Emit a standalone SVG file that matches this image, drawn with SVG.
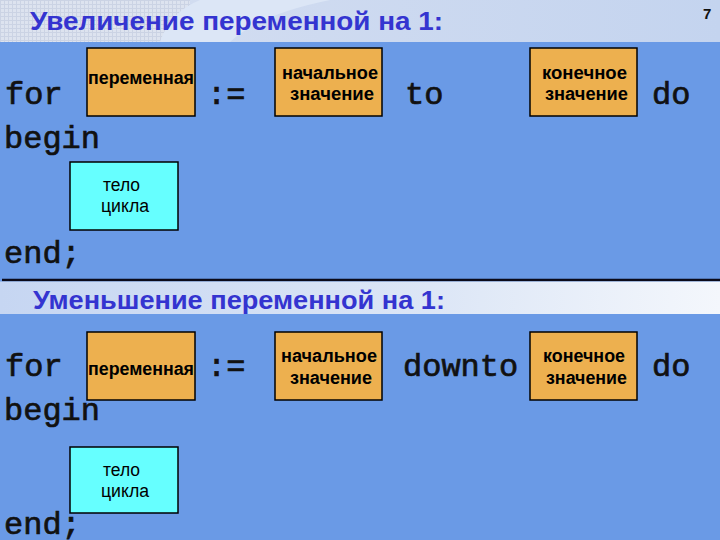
<svg xmlns="http://www.w3.org/2000/svg" width="720" height="540" viewBox="0 0 720 540">
<defs>
<pattern id="grid" width="4" height="4" patternUnits="userSpaceOnUse">
<rect width="4" height="4" fill="#DDE3EF"/>
<path d="M0 0.5H4M0.5 0V4" stroke="#CBD3E4" stroke-width="1"/>
</pattern>
<linearGradient id="hdr1" x1="0" y1="0" x2="1" y2="0">
<stop offset="0" stop-color="#D6DFF1"/>
<stop offset="1" stop-color="#C4D4EF"/>
</linearGradient>
<linearGradient id="hdr2" x1="0" y1="0" x2="1" y2="0">
<stop offset="0" stop-color="#C6D6F2"/>
<stop offset="0.6" stop-color="#DCE6F6"/>
<stop offset="1" stop-color="#F4F7FC"/>
</linearGradient>
<style>
.title{font-family:"Liberation Sans",Arial,sans-serif;font-weight:bold;font-size:25px;fill:#3434D0}
.code{font-family:"Liberation Mono","Courier New",monospace;font-size:32px;fill:#111;stroke:#111;stroke-width:0.7}
.box{stroke:#000;stroke-width:1.5}
.or{fill:#EDB04F}
.cy{fill:#66FFFF}
.bt{font-family:"Liberation Sans",Arial,sans-serif;font-weight:bold;font-size:18px;fill:#000}
.ct{font-family:"Liberation Sans",Arial,sans-serif;font-size:18px;fill:#000}
</style>
</defs>
<rect width="720" height="540" fill="#6A9AE6"/>
<g id="header1">
<rect x="0" y="0" width="720" height="42" fill="url(#hdr1)"/>
<rect x="0" y="0" width="190" height="42" fill="url(#grid)"/>
<path d="M160 42 Q170 12 200 0 L330 0 Q260 14 230 42 Z" fill="#DCE6F6"/>
<text class="title" x="30" y="30" textLength="413" lengthAdjust="spacingAndGlyphs">Увеличение переменной на 1:</text>
<text x="703" y="19" font-family="Liberation Sans, Arial, sans-serif" font-weight="bold" font-size="15" fill="#111">7</text>
</g>
<g id="connectors">
<line x1="2" y1="280" x2="720" y2="280" stroke="#0A0A1A" stroke-width="2.5"/>
</g>
<g id="header2">
<rect x="0" y="281.5" width="720" height="32.5" fill="url(#hdr2)"/>
<text class="title" x="33" y="309" textLength="412" lengthAdjust="spacingAndGlyphs">Уменьшение переменной на 1:</text>
</g>
<g id="top-code">
<text class="code" x="5" y="104">for</text>
<text class="code" x="207" y="104">:=</text>
<text class="code" x="405" y="104">to</text>
<text class="code" x="652" y="104">do</text>
<text class="code" x="4" y="148">begin</text>
<text class="code" x="4" y="263">end;</text>
</g>
<g id="top-var">
<rect class="box or" x="87" y="48" width="108" height="68"/>
<text class="bt" x="88" y="84" textLength="106" lengthAdjust="spacingAndGlyphs">переменная</text>
</g>
<g id="top-start">
<rect class="box or" x="275" y="48" width="107" height="68"/>
<text class="bt" x="282" y="79" textLength="96" lengthAdjust="spacingAndGlyphs">начальное</text>
<text class="bt" x="290" y="100" textLength="84" lengthAdjust="spacingAndGlyphs">значение</text>
</g>
<g id="top-end">
<rect class="box or" x="530" y="48" width="107" height="68"/>
<text class="bt" x="542" y="79" textLength="85" lengthAdjust="spacingAndGlyphs">конечное</text>
<text class="bt" x="545" y="100" textLength="83" lengthAdjust="spacingAndGlyphs">значение</text>
</g>
<g id="top-body">
<rect class="box cy" x="70" y="162" width="108" height="68"/>
<text class="ct" x="103" y="191" textLength="37" lengthAdjust="spacingAndGlyphs">тело</text>
<text class="ct" x="101" y="212" textLength="48" lengthAdjust="spacingAndGlyphs">цикла</text>
</g>
<g id="bottom-code">
<text class="code" x="5" y="376">for</text>
<text class="code" x="207" y="376">:=</text>
<text class="code" x="403" y="376">downto</text>
<text class="code" x="652" y="376">do</text>
<text class="code" x="4" y="420">begin</text>
<text class="code" x="4" y="534">end;</text>
</g>
<g id="bottom-var">
<rect class="box or" x="87" y="332" width="108" height="68"/>
<text class="bt" x="88" y="375" textLength="106" lengthAdjust="spacingAndGlyphs">переменная</text>
</g>
<g id="bottom-start">
<rect class="box or" x="275" y="332" width="107" height="68"/>
<text class="bt" x="281" y="362" textLength="96" lengthAdjust="spacingAndGlyphs">начальное</text>
<text class="bt" x="290" y="384" textLength="82" lengthAdjust="spacingAndGlyphs">значение</text>
</g>
<g id="bottom-end">
<rect class="box or" x="530" y="332" width="107" height="68"/>
<text class="bt" x="543" y="362" textLength="82" lengthAdjust="spacingAndGlyphs">конечное</text>
<text class="bt" x="546" y="384" textLength="81" lengthAdjust="spacingAndGlyphs">значение</text>
</g>
<g id="bottom-body">
<rect class="box cy" x="70" y="447" width="108" height="66"/>
<text class="ct" x="103" y="476" textLength="37" lengthAdjust="spacingAndGlyphs">тело</text>
<text class="ct" x="101" y="497" textLength="48" lengthAdjust="spacingAndGlyphs">цикла</text>
</g>
</svg>
